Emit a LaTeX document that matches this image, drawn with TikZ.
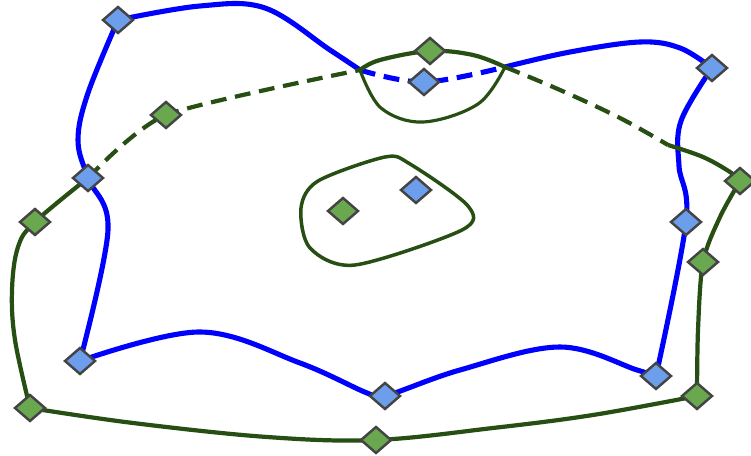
\documentclass[tikz,border=0pt]{standalone}
\usepackage{tikz}
\usetikzlibrary{shapes.geometric,backgrounds}
\definecolor{linegreen}{HTML}{274E13}
\definecolor{fillgreen}{HTML}{6AA84F}
\definecolor{fillblue}{HTML}{6D9EEB}
\definecolor{edgegray}{HTML}{444444}

\begin{document}
\begin{tikzpicture}[x=0.02cm,y=0.02cm,
  pt/.style={diamond,draw=edgegray,line width=1.4pt,inner sep=0pt,
             minimum width=0.62cm,minimum height=0.54cm},
  bpt/.style={pt,fill=fillblue},
  gpt/.style={pt,fill=fillgreen},
  bline/.style={blue,line width=2.9pt,line join=round},
  gline/.style={linegreen,line width=2.4pt,line join=round},
  hidden/.style={dash pattern=on 9pt off 5pt}]
\useasboundingbox (0,0) rectangle (751,456);

%-------------------------------------------------------------------
% Points
\foreach \n/\x/\y in {b1/118/436,b2/712/388,b3/424/374,b4/88/278,b5/686/234,
                      b6/416/266,b7/80/95,b8/385/60,b9/656/80}{
    \node[bpt] (\n) at (\x,\y) {};}
\foreach \n/\x/\y in {g1/430/405,g2/166/341,g3/740/275,g4/35/234,g5/343/245,
                      g6/703/194,g7/30/48,g8/697/60,g9/376/16}{
    \node[gpt] (\n) at (\x,\y) {};}
% where the curves meet
\coordinate (x1) at (360,386);
\coordinate (x2) at (505,389);

\begin{scope}[on background layer]
%-------------------------------------------------------------------
% Blue loop
\draw[bline] plot[smooth,tension=0.6] coordinates
  {(b1.center) (200,450) (265,448) (330,406) (x1)};
\draw[bline,hidden] plot[smooth,tension=0.6] coordinates
  {(x1) (b3.center) (x2)};
\draw[bline] plot[smooth,tension=0.6] coordinates
  {(x2) (570,404) (640,414) (680,408) (b2.center)};
\draw[bline] plot[smooth,tension=0.6] coordinates
  {(b2.center) (681,335) (679,290) (b5.center) (b9.center)};
\draw[bline] plot[smooth,tension=0.6] coordinates
  {(b9.center) (637,86) (560,109) (460,86) (b8.center) (367,63) (300,93) (200,124) (b7.center)};
\draw[bline] plot[smooth,tension=0.6] coordinates
  {(b7.center) (108,226) (b4.center) (78,316) (88,363) (b1.center)};

%-------------------------------------------------------------------
% Green outer loop
\draw[gline] plot[smooth,tension=0.6] coordinates
  {(g7.center) (15,116) (12,166) (18,209) (g4.center) (b4.center)};
\draw[gline,hidden] plot[smooth,tension=0.4] coordinates
  {(b4.center) (g2.center) (x1)};
\draw[gline] plot[smooth,tension=0.6] coordinates
  {(x1) (380,396) (g1.center) (473,401) (x2)};
\draw[gline,hidden] plot[smooth,tension=0.6] coordinates
  {(x2) (560,366) (620,338) (668,311)};
\draw[gline] plot[smooth,tension=0.6] coordinates
  {(668,311) (703,299) (730,284) (g3.center)};
\draw[gline] plot[smooth,tension=0.5] coordinates
  {(g3.center) (720,239) (g6.center) (698,126) (g8.center)};
\draw[gline] plot[smooth,tension=0.6] coordinates
  {(g8.center) (593,41) (493,28) (g9.center) (267,19) (133,33) (g7.center)};

% Green dip below the crossing
\draw[linegreen,line width=1.8pt] plot[smooth,tension=0.6] coordinates
  {(x1) (381,348) (423,334) (478,352) (x2)};

% Green inner loop
\draw[linegreen,line width=2pt] plot[smooth cycle,tension=0.5] coordinates
  {(301,248) (318,275) (385,299) (410,292) (468,250) (462,226) (355,191) (310,208)};
\end{scope}

\end{tikzpicture}
\end{document}
